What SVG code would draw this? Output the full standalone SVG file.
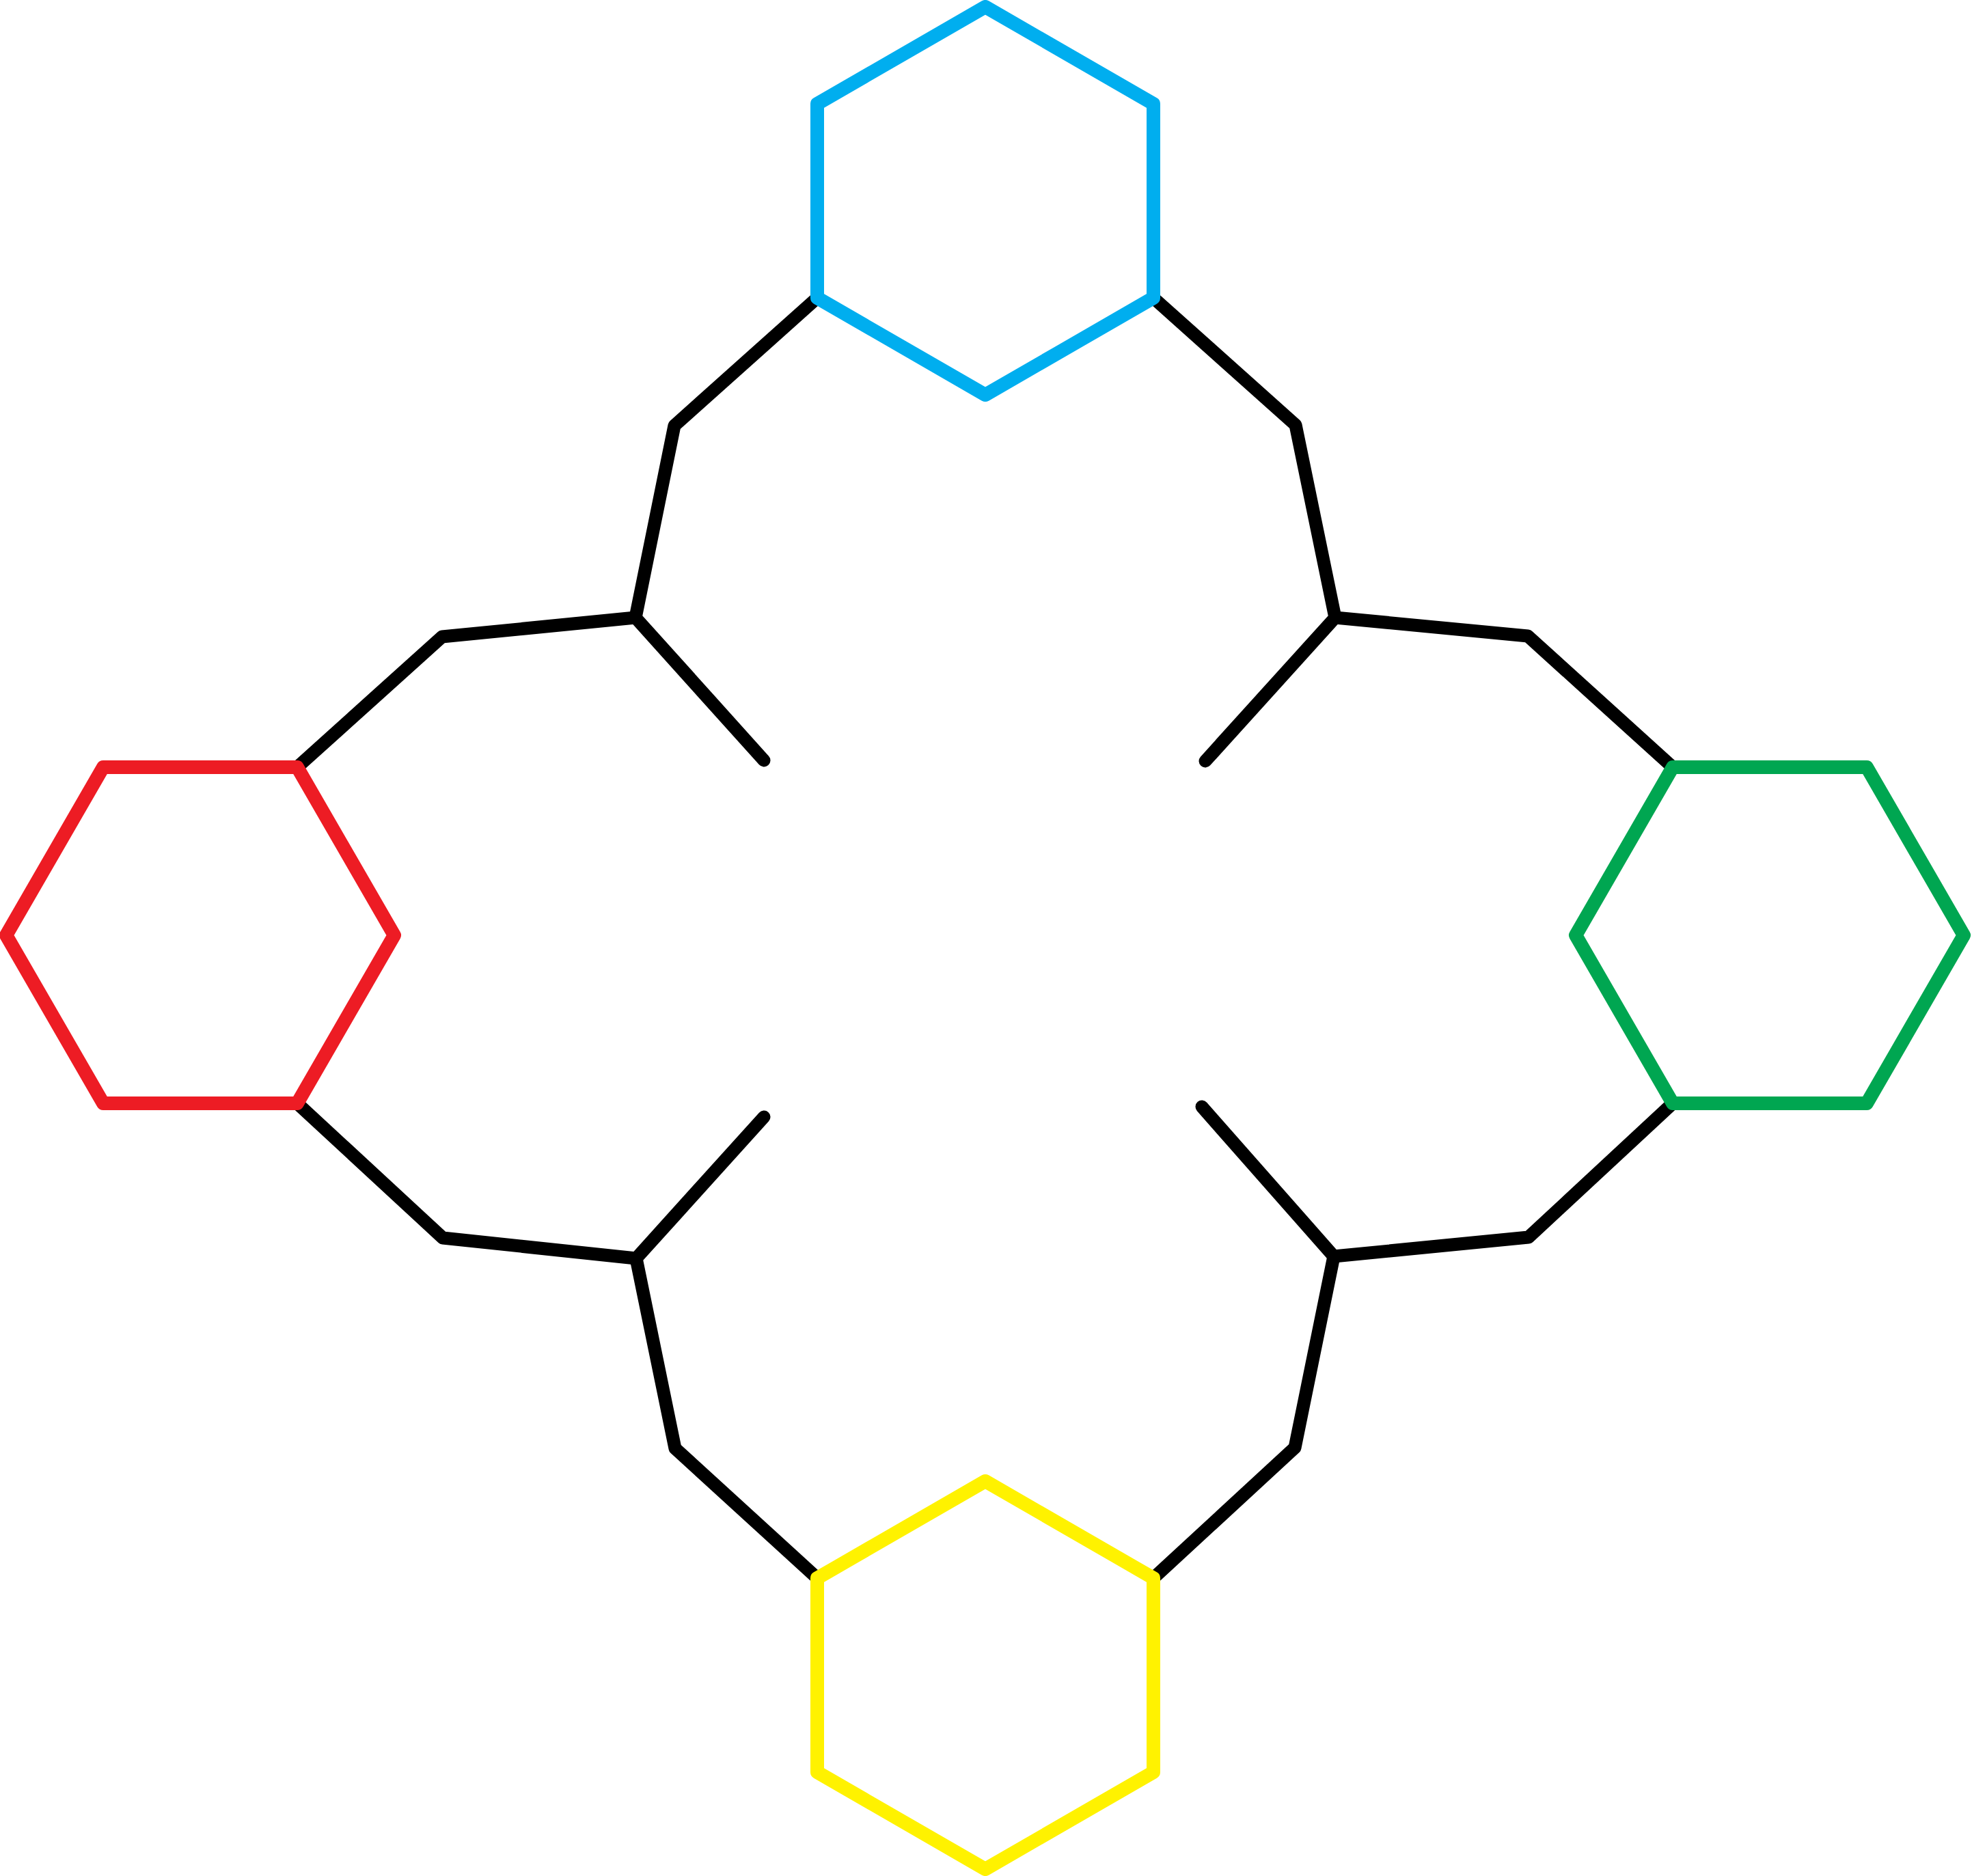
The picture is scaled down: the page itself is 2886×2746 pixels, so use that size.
<svg xmlns="http://www.w3.org/2000/svg" width="2886" height="2746" viewBox="0 0 2886 2746">
<style>
.bond{fill:none;stroke:#000;stroke-width:19;stroke-linecap:round;stroke-linejoin:round}
.hex{fill:none;stroke-width:20;stroke-linejoin:round;stroke-linecap:round}
#blue .hex{stroke:#00AEEF}
#red .hex{stroke:#ED1C24}
#green .hex{stroke:#00A651}
#yellow .hex{stroke:#FFF200}
</style>
<rect width="2886" height="2746" fill="#fff"/>
<g id="connectors">
<polyline class="bond" points="1196,436 987,623 930,904 1118,1113"/>
<polyline class="bond" points="930,904 647,932 435,1123"/>
<polyline class="bond" points="1688,436 1896,622 1954,904 1764,1114"/>
<polyline class="bond" points="1954,904 2236,931 2448,1123"/>
<polyline class="bond" points="435,1615 648,1812 931,1842 1118,1635"/>
<polyline class="bond" points="931,1842 988,2120 1196,2310"/>
<polyline class="bond" points="2448,1615 2237,1811 1952,1839 1759,1620"/>
<polyline class="bond" points="1952,1839 1895,2119 1688,2310"/>
</g>
<g id="blue"><polygon class="hex" points="1442,10 1688,152 1688,436 1442,578 1196,436 1196,152"/></g>
<g id="red"><polygon class="hex" points="9,1369 151,1123 435,1123 577,1369 435,1615 151,1615"/></g>
<g id="green"><polygon class="hex" points="2306,1369 2448,1123 2732,1123 2874,1369 2732,1615 2448,1615"/></g>
<g id="yellow"><polygon class="hex" points="1442,2168 1688,2310 1688,2594 1442,2736 1196,2594 1196,2310"/></g>
</svg>
